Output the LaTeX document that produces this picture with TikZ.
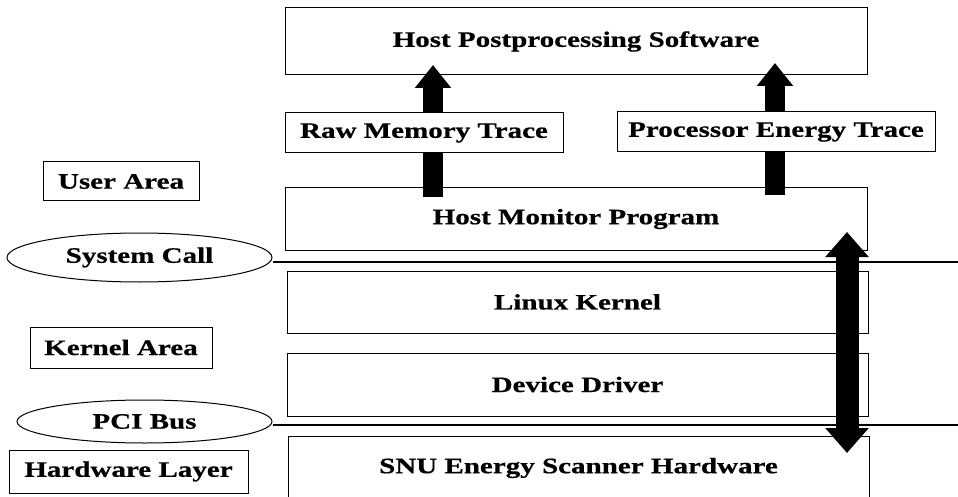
\documentclass[tikz,border=0pt]{standalone}
\usepackage{fontspec}
\newfontfamily\labfont{Liberation Serif}[FakeStretch=1.32,FakeBold=0.6]
\usetikzlibrary{shapes.geometric,arrows.meta}
\begin{document}
\begin{tikzpicture}[x=1pt,y=-1pt,
  lab/.style={font=\labfont\bfseries\fontsize{22}{26}\selectfont,inner sep=0pt},
  boxed/.style={lab,draw,line width=1pt,fill=white},
  oval/.style={lab,draw,line width=1pt,ellipse},
  busline/.style={line width=2.5pt},
  upflow/.style={line width=20pt,-{Triangle[width=35pt,length=23pt]}},
  bothflow/.style={line width=23pt,{Triangle[width=42pt,length=25pt]}-{Triangle[width=42pt,length=25pt]}}]
\useasboundingbox (0,0) rectangle (958,497);
\clip (0,0) rectangle (958,497);
% layer boxes
\node[boxed,minimum width=582pt,minimum height=67pt] (hps) at (576,41.5) {Host Postprocessing Software};
\node[boxed,minimum width=582pt,minimum height=62pt] (hmp) at (576,219) {Host Monitor Program};
\node[boxed,minimum width=581pt,minimum height=62pt] (lk) at (577.5,302) {Linux Kernel};
\node[boxed,minimum width=581pt,minimum height=63pt] (dd) at (577.5,384.5) {Device Driver};
\node[boxed,minimum width=581pt,minimum height=64pt] (snu) at (578.5,468) {SNU Energy Scanner Hardware};
% left labels
\node[boxed,minimum width=156pt,minimum height=39pt] (user) at (121,181.5) {User Area};
\node[boxed,minimum width=182pt,minimum height=41pt] (kern) at (121,347.5) {Kernel Area};
\node[boxed,minimum width=239pt,minimum height=43pt] (hw) at (128.5,471.5) {Hardware Layer};
\node[oval,minimum width=265pt,minimum height=49pt] (sc) at (139.5,257.5) {System Call};
\node[oval,minimum width=255pt,minimum height=43pt] (pci) at (144.5,421.5) {PCI Bus};
% bus lines
\coordinate (scR) at (958,262);
\coordinate (pciR) at (958,425);
\draw[busline] (sc.east |- scR) -- (scR);
\draw[busline] (pci.east |- pciR) -- (pciR);
% upward arrows
\coordinate (a1s) at (433,197);
\coordinate (a1e) at (433,65);
\coordinate (a2s) at (775,195);
\coordinate (a2e) at (775,63);
\draw[upflow] (a1s) -- (a1e);
\draw[upflow] (a2s) -- (a2e);
% trace boxes over arrows
\node[boxed,minimum width=278pt,minimum height=40pt] (raw) at (424,133) {Raw Memory Trace};
\node[boxed,minimum width=318pt,minimum height=40pt] (pet) at (776,132) {Processor Energy Trace};
% double arrow
\coordinate (d1) at (847,232);
\coordinate (d2) at (847,453);
\draw[bothflow] (d1) -- (d2);
\end{tikzpicture}
\end{document}
